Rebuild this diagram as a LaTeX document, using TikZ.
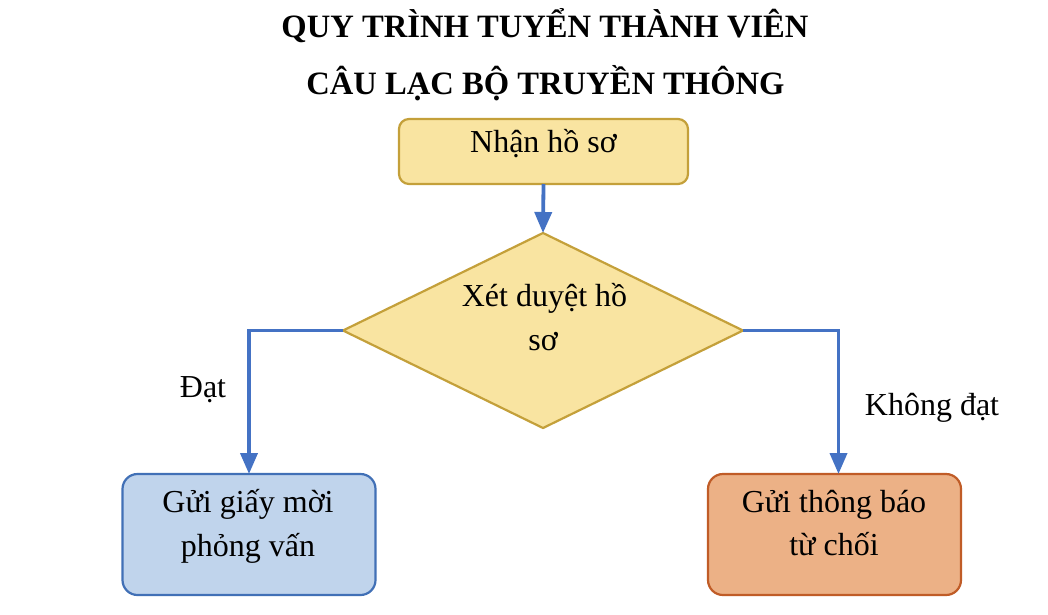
\documentclass[tikz,border=0pt]{standalone}
\usepackage{fontspec}
\setmainfont{Liberation Serif}
\usetikzlibrary{arrows.meta,shapes.geometric}
\definecolor{yfill}{HTML}{F9E4A1}
\definecolor{ydraw}{HTML}{C4A03A}
\definecolor{bfill}{HTML}{C0D4EC}
\definecolor{bdraw}{HTML}{4170B6}
\definecolor{ofill}{HTML}{ECB186}
\definecolor{odraw}{HTML}{C05C27}
\definecolor{arrowc}{HTML}{4472C4}
\begin{document}
\begin{tikzpicture}[x=1pt,y=-1pt,
  txt/.style={anchor=base,inner sep=0,font=\fontsize{32}{40}\selectfont},
  ttl/.style={anchor=base,inner sep=0,font=\fontsize{32.6}{40}\selectfont\bfseries},
  box/.style={rectangle,line width=2.2pt,minimum width=253pt,minimum height=121pt,inner sep=0,outer sep=0,rounded corners=15pt},
  flow/.style={draw=arrowc,line width=3.8pt,-{Triangle[length=21pt,width=17pt]}},
]
\useasboundingbox (0,0) rectangle (1048,614);
\fill[white] (0,0) rectangle (1048,614);

% title
\node[ttl] (title1) at (545,37) {QUY TRÌNH TUYỂN THÀNH VIÊN};
\node[ttl] (title2) at (545.5,94) {CÂU LẠC BỘ TRUYỀN THÔNG};

% shapes
\node[rectangle,draw=ydraw,fill=yfill,line width=2.2pt,minimum width=289pt,minimum height=65pt,inner sep=0,outer sep=0,rounded corners=10pt] (start) at (543.5,151.5) {};
\node[diamond,draw=ydraw,fill=yfill,line width=2.2pt,minimum width=400pt,minimum height=195pt,inner sep=0,outer sep=0] (check) at (543,330.5) {};
\node[box,draw=bdraw,fill=bfill] (pass) at (249,534.5) {};
\node[box,draw=odraw,fill=ofill] (fail) at (834.5,534.5) {};

% texts
\node[txt] (startt) at (543.5,152.5) {Nhận hồ sơ};
\node[txt] (checkt1) at (544.5,306.5) {Xét duyệt hồ};
\node[txt] (checkt2) at (543,350.5) {sơ};
\node[txt] (passt1) at (248,512) {Gửi giấy mời};
\node[txt] (passt2) at (248,556.5) {phỏng vấn};
\node[txt] (failt1) at (834,512) {Gửi thông báo};
\node[txt] (failt2) at (834,555.5) {từ chối};

% connectors
\draw[flow] (start.south) -- (check.north);
\draw[flow] (check.west) -| (pass.north);
\draw[flow] (check.east) -| ([xshift=4pt]fail.north);

% labels
\node[txt] (yes) at (203,397) {Đạt};
\node[txt] (no) at (932,415) {Không đạt};
\end{tikzpicture}
\end{document}
